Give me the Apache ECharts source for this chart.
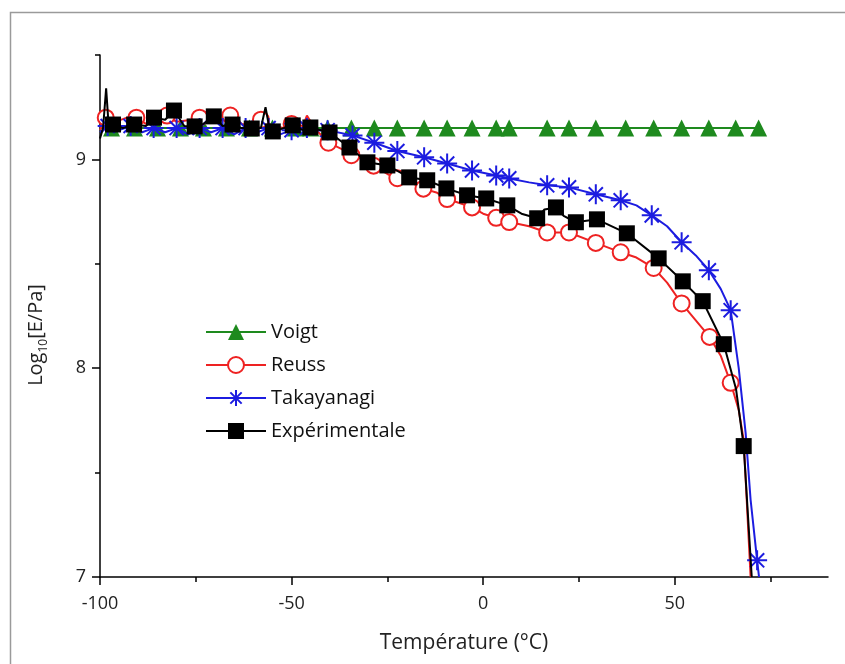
<!DOCTYPE html>
<html>
<head>
<meta charset="utf-8">
<script src="https://cdn.jsdelivr.net/npm/echarts@6/dist/echarts.min.js"></script>
<style>html,body{margin:0;padding:0;background:#fff}#c{width:845px;height:664px}</style>
</head>
<body>
<div id="c"></div>
<script>
// [temperature, log10 E, marker flag]
var voigt = [
[-100,9.15,0],[-97,9.15,1],[-91,9.15,1],[-85,9.15,1],[-79,9.15,1],[-73,9.15,1],[-67,9.15,1],[-61,9.15,1],[-55,9.15,1],[-49,9.15,1],[-45,9.15,1],
[-40.6,9.15,1],[-34.4,9.15,1],[-28.4,9.15,1],[-22.4,9.15,1],[-15.4,9.15,1],[-9.4,9.15,1],[-2.9,9.15,1],[3.4,9.15,1],[6.8,9.15,1],
[16.7,9.15,1],[22.4,9.15,1],[29.4,9.15,1],[37.2,9.15,1],[44.5,9.15,1],[51.8,9.15,1],[58.9,9.15,1],[65.9,9.15,1],[71.9,9.15,1]
];
var reuss = [
[-100,9.14,0],[-98.5,9.2,1],[-96,9.18,0],[-93,9.2,0],[-90.5,9.2,1],[-88,9.17,0],[-85,9.2,0],[-82.5,9.21,1],[-80,9.18,0],[-76,9.19,0],
[-74,9.2,1],[-71,9.18,0],[-68,9.19,0],[-66,9.21,1],[-63,9.17,0],[-60,9.16,0],[-58,9.19,1],[-55,9.16,0],[-52,9.15,0],[-50,9.17,1],
[-47,9.16,0],[-46,9.21,0],[-44,9.15,0],[-40.4,9.08,1],[-37,9.05,0],[-34.4,9.02,1],[-31,9.0,0],[-28.6,8.97,1],[-25,8.93,0],[-22.4,8.91,1],
[-19,8.89,0],[-15.6,8.86,1],[-12,8.84,0],[-9.4,8.81,1],[-6,8.79,0],[-2.9,8.77,1],[0,8.74,0],[3.4,8.72,1],[6.8,8.70,1],[12,8.68,0],
[16.7,8.65,1],[22.4,8.65,1],[29.4,8.60,1],[35.9,8.555,1],[40,8.53,0],[44.5,8.48,1],[48,8.41,0],[51.8,8.31,1],[55,8.24,0],[59.1,8.15,1],
[62,8.06,0],[64.6,7.93,1],[66.7,7.80,0],[68.0,7.655,0],[69.8,7.0,0]
];
var takayanagi = [
[-100,9.13,0],[-98,9.16,1],[-95,9.14,0],[-92,9.16,1],[-89,9.13,0],[-86,9.15,1],[-83,9.13,0],[-80,9.15,1],[-77,9.12,0],[-74,9.15,1],
[-71,9.13,0],[-68,9.15,1],[-65,9.12,0],[-62,9.15,1],[-59,9.13,0],[-56,9.15,1],[-53,9.12,0],[-50,9.14,1],[-46,9.15,1],[-43,9.14,0],
[-40.6,9.14,1],[-34.1,9.115,1],[-28.4,9.08,1],[-22.4,9.04,1],[-15.4,9.01,1],[-9.4,8.98,1],[-2.9,8.947,1],[3.4,8.923,1],[6.8,8.909,1],
[12,8.89,0],[16.7,8.876,1],[22.4,8.866,1],[29.4,8.833,1],[35.9,8.804,1],[40,8.78,0],[44,8.732,1],[48,8.68,0],[51.8,8.603,1],[55.5,8.54,0],
[58.9,8.469,1],[62,8.38,0],[64.6,8.278,1],[66.7,8.0,0],[68.5,7.69,0],[69.8,7.37,0],[71.5,7.08,1],[72,7.0,0]
];
var experimental = [
[-100,9.10,0],[-99.2,9.15,0],[-98.4,9.34,0],[-97.7,9.15,0],[-96.6,9.167,1],[-94,9.15,0],[-91.1,9.167,1],[-88,9.16,0],[-85.9,9.2,1],
[-83,9.19,0],[-80.7,9.234,1],[-78,9.16,0],[-75.3,9.158,1],[-73,9.17,0],[-70.3,9.206,1],[-68,9.16,0],[-65.4,9.167,1],[-63,9.15,0],
[-60.4,9.148,1],[-58,9.15,0],[-56.8,9.25,0],[-55.7,9.14,0],[-54.9,9.134,1],[-52,9.15,0],[-49.7,9.163,1],[-47,9.14,0],[-45.1,9.153,1],
[-40.1,9.129,1],[-34.9,9.057,1],[-30.2,8.986,1],[-25.0,8.971,1],[-19.3,8.914,1],[-14.6,8.90,1],[-9.6,8.861,1],[-4.2,8.828,1],
[0.8,8.813,1],[6.3,8.78,1],[10,8.74,0],[14.1,8.718,1],[16,8.76,0],[19.0,8.77,1],[21,8.73,0],[24.2,8.699,1],[29.7,8.713,1],
[37.5,8.646,1],[45.8,8.526,1],[52.1,8.416,1],[57.3,8.321,1],[62.8,8.115,1],[66,7.9,0],[68.0,7.627,1],[70.1,7.0,0]
];
var seriesNames = ['Voigt','Reuss','Takayanagi','Expérimentale'];
var xMajorTicks = [-100,-50,0,50];
var xMinorTicks = [-75,-25,25,75];
var yMajorTicks = [7,8,9];
var yMinorTicks = [7.5,8.5,9.5];

var FONT = 'Open Sans';
var STAR = 'path://M10,0L10,20M0,10L20,10M2.93,2.93L17.07,17.07M2.93,17.07L17.07,2.93';
var styles = [
  {data: voigt, color:'#1e8a1e', symbol:'triangle', size:17, item:{color:'#1e8a1e', opacity:1}},
  {data: reuss, color:'#ee2222', symbol:'circle', size:16, item:{color:'#ffffff', borderColor:'#ee2222', borderWidth:2, opacity:1}},
  {data: takayanagi, color:'#1c1ce0', symbol:STAR, size:20, item:{color:'rgba(0,0,0,0)', borderColor:'#1c1ce0', borderWidth:2, opacity:1}},
  {data: experimental, color:'#000000', symbol:'rect', size:16, item:{color:'#000000', opacity:1}}
];

var series = [];
styles.forEach(function(s, i){
  series.push({
    name: seriesNames[i], type:'line', data: s.data.map(function(d){return [d[0], d[1]];}),
    symbol: s.symbol, symbolSize: s.size, showSymbol:false, symbolKeepAspect:true,
    lineStyle:{color:s.color, width:2}, itemStyle: s.item, z: 2 + i*2, silent:true, clip:true
  });
  series.push({
    name: seriesNames[i] + ' marks', type:'scatter',
    data: s.data.filter(function(d){return d[2] === 1;}).map(function(d){return [d[0], d[1]];}),
    symbol: s.symbol, symbolSize: s.size, symbolKeepAspect:true,
    itemStyle: s.item, z: 3 + i*2, silent:true
  });
});

var chart = echarts.init(document.getElementById('c'), null, {renderer:'canvas'});
chart.setOption({
  animation:false,
  backgroundColor:'#ffffff',
  grid:{left:100, right:17, top:55, bottom:87, containLabel:false},
  graphic:[{type:'rect', left:8, top:10, shape:{x:0,y:0,width:900,height:700}, style:{fill:'none', stroke:'#9a9a9a', lineWidth:1.5}, silent:true, z:-1}],
  legend:{
    data: seriesNames, orient:'vertical', left:200, top:317, itemWidth:60, itemHeight:20, itemGap:13,
    textStyle:{fontFamily:FONT, fontSize:20, color:'#111', lineHeight:20}, selectedMode:false
  },
  xAxis:[{
    type:'value', min:-100, max:90, interval:50, position:'bottom',
    axisLine:{show:true, onZero:false, lineStyle:{color:'#000', width:1.5}},
    axisTick:{show:true, customValues:xMajorTicks, length:8, lineStyle:{color:'#000', width:1.5}},
    axisLabel:{customValues:xMajorTicks, fontFamily:FONT, fontSize:18, color:'#222', margin:18},
    splitLine:{show:false},
    name:'Température (°C)', nameLocation:'middle', nameGap:56,
    nameTextStyle:{fontFamily:FONT, fontSize:21, color:'#222'}
  },{
    type:'value', min:-100, max:90, position:'bottom',
    axisLine:{show:false, onZero:false}, axisLabel:{show:false}, splitLine:{show:false},
    axisTick:{show:true, customValues:xMinorTicks, length:5, lineStyle:{color:'#000', width:1.5}}
  }],
  yAxis:[{
    type:'value', min:7, max:9.5, interval:1, position:'left',
    axisLine:{show:true, onZero:false, lineStyle:{color:'#000', width:1.5}},
    axisTick:{show:true, customValues:yMajorTicks, length:8, lineStyle:{color:'#000', width:1.5}},
    axisLabel:{customValues:yMajorTicks, fontFamily:FONT, fontSize:18, color:'#222', margin:14},
    splitLine:{show:false},
    name:'{a|Log}{s|10}{a|[E/Pa]}', nameLocation:'middle', nameGap:50,
    nameTextStyle:{color:'#222', padding:[0,38,0,0], rich:{
      a:{fontFamily:FONT, fontSize:20, color:'#222', lineHeight:28},
      s:{fontFamily:FONT, fontSize:12, color:'#222', lineHeight:13, verticalAlign:'bottom'}
    }}
  },{
    type:'value', min:7, max:9.5, position:'left',
    axisLine:{show:false, onZero:false}, axisLabel:{show:false}, splitLine:{show:false},
    axisTick:{show:true, customValues:yMinorTicks, length:5, lineStyle:{color:'#000', width:1.5}}
  }],
  series: series
});
</script>
</body>
</html>
